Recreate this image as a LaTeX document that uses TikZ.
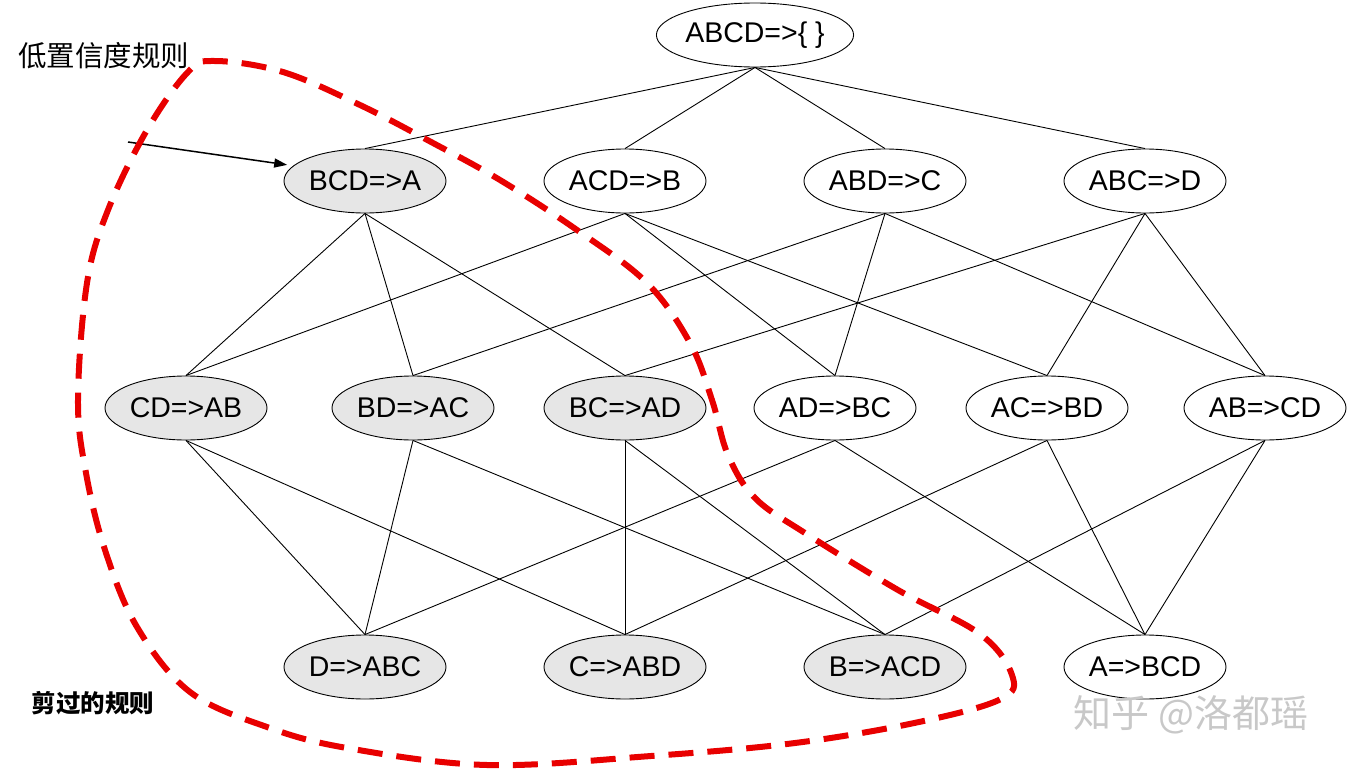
\documentclass[tikz,border=0pt]{standalone}
\usepackage{fontspec}
\setmainfont{Liberation Sans}
\newfontfamily\cjk{Noto Sans CJK SC}
\usetikzlibrary{shapes.geometric,arrows.meta}
\definecolor{lowgray}{RGB}{230,230,230}
\definecolor{prunered}{RGB}{232,0,0}
\definecolor{wmgray}{RGB}{200,200,200}
\begin{document}
\begin{tikzpicture}[x=1pt,y=-1pt,
  rule/.style={ellipse,draw=black,line width=0.9pt,minimum width=162pt,minimum height=64pt,inner sep=0pt,fill=white,font=\fontsize{28.5}{30}\selectfont},
  low/.style={rule,fill=lowgray},
  edge/.style={line width=0.9pt},
  prune/.style={draw=prunered,line width=6pt,dash pattern=on 25pt off 14pt},
  pointer/.style={line width=1.5pt,-{Triangle[length=13pt,width=9pt]}}
]
\useasboundingbox (0,0) rectangle (1353,771);
% nodes
\node[rule,minimum width=195pt] (top) at (755,35) {ABCD=>\{ \}};
\node[low]  (bcdA) at (365,181) {BCD=>A};
\node[rule] (acdB) at (625,181) {ACD=>B};
\node[rule] (abdC) at (885,181) {ABD=>C};
\node[rule] (abcD) at (1145,181) {ABC=>D};
\node[low]  (cdAB) at (186,408) {CD=>AB};
\node[low]  (bdAC) at (413,408) {BD=>AC};
\node[low]  (bcAD) at (625,408) {BC=>AD};
\node[rule] (adBC) at (835,408) {AD=>BC};
\node[rule] (acBD) at (1047,408) {AC=>BD};
\node[rule] (abCD) at (1265,408) {AB=>CD};
\node[low]  (dABC) at (365,667) {D=>ABC};
\node[low]  (cABD) at (625,667) {C=>ABD};
\node[low]  (bACD) at (885,667) {B=>ACD};
\node[rule] (aBCD) at (1145,667) {A=>BCD};
% edges
\foreach \a/\b in {top/bcdA, top/acdB, top/abdC, top/abcD,
  bcdA/cdAB, bcdA/bdAC, bcdA/bcAD, acdB/cdAB, acdB/adBC, acdB/acBD,
  abdC/bdAC, abdC/adBC, abdC/abCD, abcD/bcAD, abcD/acBD, abcD/abCD,
  cdAB/dABC, cdAB/cABD, bdAC/dABC, bdAC/bACD, bcAD/cABD, bcAD/bACD,
  adBC/dABC, adBC/aBCD, acBD/cABD, acBD/aBCD, abCD/bACD, abCD/aBCD}
  \draw[edge] (\a.south) -- (\b.north);
% labels
\node[font=\cjk\fontsize{28.5}{30}\selectfont,inner sep=0pt] (lowlab) at (104,56) {低置信度规则};
\node[font=\cjk\bfseries\fontsize{24.5}{26}\selectfont,inner sep=0pt] (cutlab) at (93,703) {剪过的规则};
\node[font=\cjk\fontsize{38}{40}\selectfont,text=wmgray,inner sep=0pt] (wm) at (1191,715) {知乎 @洛都瑶};
% pointer arrow
\coordinate (arrS) at (128,142);
\draw[pointer,shorten >=6pt] (arrS) -- (bcdA.168);
% pruned region boundary
\draw[prune] plot[smooth cycle,tension=0.6] coordinates {
  (215,61) (283,72) (360,105) (433,143) (500,180) (577,230) (647,283)
  (690,343) (712,400) (728,455) (755,498) (805,533) (898,590) (980,634) (1012,675)
  (1001,699) (919,722) (795,743) (651,756) (487,765) (347,748) (267,727)
  (190,692) (137,627) (105,550) (86,473) (78,400) (87,283) (108,210)
  (147,130) (188,72)};
\end{tikzpicture}
\end{document}
